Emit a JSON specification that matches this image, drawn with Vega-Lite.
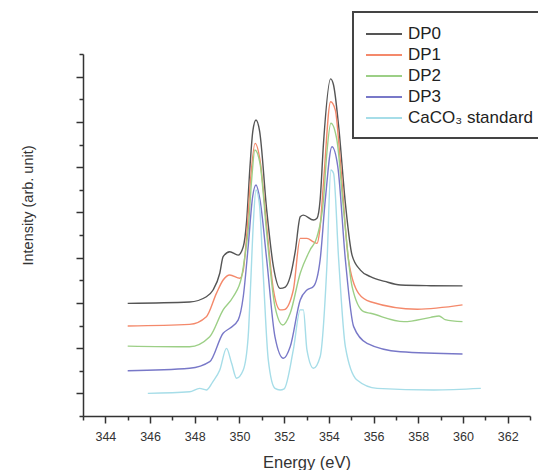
{
  "$schema": "https://vega.github.io/schema/vega-lite/v6.json",
  "width": 447,
  "height": 362,
  "autosize": {"type": "none"},
  "padding": {"left": 83, "top": 54, "right": 8, "bottom": 54},
  "background": "white",
  "config": {
    "font": "Liberation Sans",
    "view": {"stroke": null},
    "axis": {"domainColor": "#333333", "domainWidth": 1.5, "tickColor": "#333333", "tickWidth": 1.5, "labelColor": "#333333", "titleColor": "#333333", "grid": false, "titleFontWeight": "normal"},
    "legend": {"strokeColor": "#444444", "strokeWidth": 2, "fillColor": "white", "padding": 12, "symbolType": "M-1,0H3", "symbolSize": 324, "symbolStrokeWidth": 2, "labelFontSize": 17, "labelColor": "#222222", "labelOffset": 23, "rowPadding": 3, "labelLimit": 300}
  },
  "data": {"values": [
    {"s":"DP0","x":345.0,"y":4.98},{"s":"DP0","x":347.77,"y":5.04},{"s":"DP0","x":348.52,"y":5.27},{"s":"DP0","x":348.82,"y":5.57},{"s":"DP0","x":349.12,"y":6.31},{"s":"DP0","x":349.27,"y":7.04},{"s":"DP0","x":349.57,"y":7.26},{"s":"DP0","x":349.94,"y":7.11},{"s":"DP0","x":350.17,"y":7.48},{"s":"DP0","x":350.32,"y":8.6},{"s":"DP0","x":350.47,"y":11.0},{"s":"DP0","x":350.6,"y":12.6},{"s":"DP0","x":350.74,"y":13.08},{"s":"DP0","x":350.9,"y":12.6},{"s":"DP0","x":351.22,"y":9.10},{"s":"DP0","x":351.52,"y":6.60},{"s":"DP0","x":351.82,"y":5.64},{"s":"DP0","x":352.05,"y":5.7},{"s":"DP0","x":352.27,"y":6.16},{"s":"DP0","x":352.5,"y":7.3},{"s":"DP0","x":352.72,"y":8.81},{"s":"DP0","x":352.86,"y":8.88},{"s":"DP0","x":353.31,"y":8.66},{"s":"DP0","x":353.47,"y":8.74},{"s":"DP0","x":353.61,"y":9.55},{"s":"DP0","x":353.76,"y":12.05},{"s":"DP0","x":354.08,"y":14.9},{"s":"DP0","x":354.21,"y":14.63},{"s":"DP0","x":354.44,"y":12.79},{"s":"DP0","x":354.74,"y":9.40},{"s":"DP0","x":355.04,"y":7.1},{"s":"DP0","x":355.41,"y":6.45},{"s":"DP0","x":355.86,"y":6.16},{"s":"DP0","x":356.5,"y":5.95},{"s":"DP0","x":357.21,"y":5.79},{"s":"DP0","x":358.56,"y":5.76},{"s":"DP0","x":359.98,"y":5.75},
    {"s":"DP1","x":345.0,"y":3.98},{"s":"DP1","x":347.77,"y":4.05},{"s":"DP1","x":348.52,"y":4.39},{"s":"DP1","x":348.97,"y":5.42},{"s":"DP1","x":349.27,"y":6.01},{"s":"DP1","x":349.57,"y":6.23},{"s":"DP1","x":350.02,"y":6.09},{"s":"DP1","x":350.17,"y":6.45},{"s":"DP1","x":350.32,"y":7.92},{"s":"DP1","x":350.5,"y":10.5},{"s":"DP1","x":350.7,"y":12.05},{"s":"DP1","x":350.92,"y":11.31},{"s":"DP1","x":351.22,"y":8.37},{"s":"DP1","x":351.52,"y":5.57},{"s":"DP1","x":351.82,"y":4.69},{"s":"DP1","x":352.0,"y":4.7},{"s":"DP1","x":352.41,"y":5.57},{"s":"DP1","x":352.72,"y":7.85},{"s":"DP1","x":353.02,"y":7.85},{"s":"DP1","x":353.31,"y":7.70},{"s":"DP1","x":353.47,"y":7.63},{"s":"DP1","x":353.61,"y":8.37},{"s":"DP1","x":353.76,"y":10.3},{"s":"DP1","x":354.08,"y":13.89},{"s":"DP1","x":354.29,"y":13.52},{"s":"DP1","x":354.51,"y":11.31},{"s":"DP1","x":354.88,"y":6.90},{"s":"DP1","x":355.33,"y":5.42},{"s":"DP1","x":355.86,"y":5.05},{"s":"DP1","x":357.96,"y":4.72},{"s":"DP1","x":359.98,"y":4.91},
    {"s":"DP2","x":345.0,"y":3.09},{"s":"DP2","x":347.77,"y":3.06},{"s":"DP2","x":348.67,"y":3.50},{"s":"DP2","x":349.27,"y":4.69},{"s":"DP2","x":349.72,"y":5.27},{"s":"DP2","x":350.1,"y":6.16},{"s":"DP2","x":350.24,"y":7.04},{"s":"DP2","x":350.39,"y":8.22},{"s":"DP2","x":350.55,"y":10.5},{"s":"DP2","x":350.69,"y":11.76},{"s":"DP2","x":350.92,"y":11.17},{"s":"DP2","x":351.22,"y":8.08},{"s":"DP2","x":351.59,"y":4.83},{"s":"DP2","x":351.94,"y":4.02},{"s":"DP2","x":352.27,"y":4.54},{"s":"DP2","x":352.72,"y":6.31},{"s":"DP2","x":353.16,"y":7.34},{"s":"DP2","x":353.47,"y":7.92},{"s":"DP2","x":353.76,"y":9.55},{"s":"DP2","x":353.9,"y":11.5},{"s":"DP2","x":354.09,"y":12.94},{"s":"DP2","x":354.36,"y":12.20},{"s":"DP2","x":354.66,"y":9.10},{"s":"DP2","x":355.04,"y":5.72},{"s":"DP2","x":355.56,"y":4.61},{"s":"DP2","x":355.86,"y":4.54},{"s":"DP2","x":357.36,"y":4.17},{"s":"DP2","x":358.56,"y":4.36},{"s":"DP2","x":358.93,"y":4.42},{"s":"DP2","x":359.2,"y":4.26},{"s":"DP2","x":359.98,"y":4.17},
    {"s":"DP3","x":345.0,"y":2.00},{"s":"DP3","x":347.77,"y":2.11},{"s":"DP3","x":348.67,"y":2.40},{"s":"DP3","x":349.27,"y":3.66},{"s":"DP3","x":349.57,"y":3.88},{"s":"DP3","x":349.94,"y":4.24},{"s":"DP3","x":350.17,"y":5.27},{"s":"DP3","x":350.39,"y":7.48},{"s":"DP3","x":350.59,"y":9.69},{"s":"DP3","x":350.74,"y":10.21},{"s":"DP3","x":350.92,"y":9.55},{"s":"DP3","x":351.22,"y":6.90},{"s":"DP3","x":351.59,"y":3.50},{"s":"DP3","x":351.97,"y":2.55},{"s":"DP3","x":352.27,"y":3.06},{"s":"DP3","x":352.72,"y":5.13},{"s":"DP3","x":353.02,"y":5.57},{"s":"DP3","x":353.31,"y":5.72},{"s":"DP3","x":353.61,"y":6.90},{"s":"DP3","x":353.84,"y":9.55},{"s":"DP3","x":354.14,"y":11.90},{"s":"DP3","x":354.4,"y":11.02},{"s":"DP3","x":354.74,"y":6.90},{"s":"DP3","x":355.11,"y":3.95},{"s":"DP3","x":355.71,"y":3.21},{"s":"DP3","x":357.2,"y":2.84},{"s":"DP3","x":359.98,"y":2.74},
    {"s":"CaCO₃ standard","x":345.9,"y":1.00},{"s":"CaCO₃ standard","x":347.77,"y":1.07},{"s":"CaCO₃ standard","x":348.22,"y":1.22},{"s":"CaCO₃ standard","x":348.52,"y":1.15},{"s":"CaCO₃ standard","x":348.8,"y":1.5},{"s":"CaCO₃ standard","x":349.12,"y":2.03},{"s":"CaCO₃ standard","x":349.42,"y":2.99},{"s":"CaCO₃ standard","x":349.65,"y":2.33},{"s":"CaCO₃ standard","x":349.87,"y":1.67},{"s":"CaCO₃ standard","x":350.17,"y":2.03},{"s":"CaCO₃ standard","x":350.39,"y":3.5},{"s":"CaCO₃ standard","x":350.5,"y":5.8},{"s":"CaCO₃ standard","x":350.62,"y":8.5},{"s":"CaCO₃ standard","x":350.74,"y":9.99},{"s":"CaCO₃ standard","x":350.89,"y":9.40},{"s":"CaCO₃ standard","x":351.07,"y":6.16},{"s":"CaCO₃ standard","x":351.29,"y":2.48},{"s":"CaCO₃ standard","x":351.59,"y":1.22},{"s":"CaCO₃ standard","x":351.82,"y":1.15},{"s":"CaCO₃ standard","x":352.0,"y":1.2},{"s":"CaCO₃ standard","x":352.41,"y":2.92},{"s":"CaCO₃ standard","x":352.72,"y":4.69},{"s":"CaCO₃ standard","x":352.86,"y":4.69},{"s":"CaCO₃ standard","x":353.02,"y":2.92},{"s":"CaCO₃ standard","x":353.31,"y":2.11},{"s":"CaCO₃ standard","x":353.61,"y":2.62},{"s":"CaCO₃ standard","x":353.91,"y":6.60},{"s":"CaCO₃ standard","x":354.09,"y":10.87},{"s":"CaCO₃ standard","x":354.21,"y":10.73},{"s":"CaCO₃ standard","x":354.44,"y":6.90},{"s":"CaCO₃ standard","x":354.74,"y":3.06},{"s":"CaCO₃ standard","x":355.26,"y":1.59},{"s":"CaCO₃ standard","x":356.16,"y":1.22},{"s":"CaCO₃ standard","x":358.7,"y":1.15},{"s":"CaCO₃ standard","x":360.8,"y":1.22}
  ]},
  "mark": {"type": "line", "interpolate": "monotone", "strokeWidth": 1.4},
  "encoding": {
    "x": {
      "field": "x", "type": "quantitative",
      "scale": {"domain": [343, 363], "nice": false, "zero": false},
      "axis": {
        "title": "Energy (eV)",
        "values": [343,344,345,346,347,348,349,350,351,352,353,354,355,356,357,358,359,360,361,362,363],
        "labelExpr": "datum.value % 2 === 0 ? datum.label : ''",
        "tickSize": {"condition": {"test": "datum.value % 2 === 0", "value": 7}, "value": 4},
        "labelFontSize": 12.5, "labelPadding": 7.5, "labelFlush": false, "labelOverlap": false,
        "titleFontSize": 16.5, "titleY": 51, "titleBaseline": "alphabetic"
      }
    },
    "y": {
      "field": "y", "type": "quantitative",
      "scale": {"domain": [0, 16], "nice": false, "zero": false},
      "axis": {
        "title": "Intensity (arb. unit)",
        "values": [0,1,2,3,4,5,6,7,8,9,10,11,12,13,14,15,16],
        "labels": false,
        "tickSize": {"condition": {"test": "datum.value % 2 === 1", "value": 7}, "value": 4},
        "titleFontSize": 14.5, "titleX": -51, "titleY": 151, "titleAlign": "center", "titleBaseline": "alphabetic", "titleAngle": -90
      }
    },
    "color": {
      "field": "s", "type": "nominal",
      "scale": {"domain": ["DP0", "DP1", "DP2", "DP3", "CaCO₃ standard"], "range": ["#555555", "#f4896b", "#9ccf86", "#7878c8", "#a6dde8"]},
      "legend": {"title": null, "orient": "none", "legendX": 270, "legendY": -42}
    }
  }
}
